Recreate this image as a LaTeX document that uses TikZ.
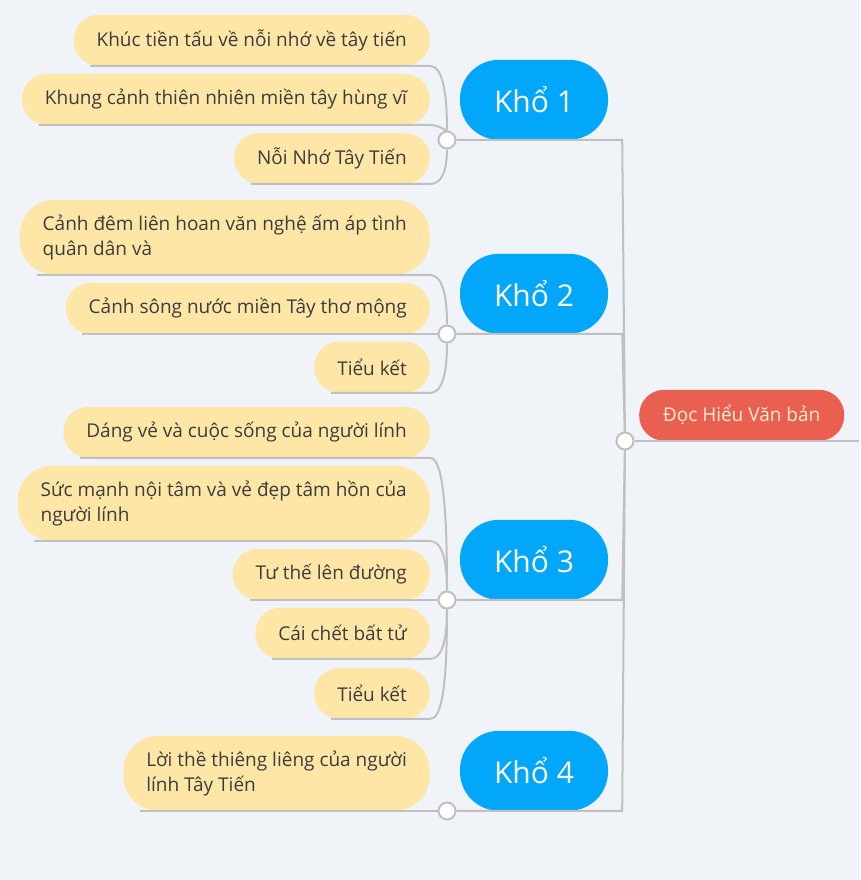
\documentclass[tikz,border=0pt]{standalone}
\usepackage{fontspec}
\setmainfont{Open Sans}
\usepackage{xcolor}
\usetikzlibrary{shapes,positioning,calc}
\definecolor{bgcol}{RGB}{240,244,249}
\definecolor{leafcol}{RGB}{254,230,167}
\definecolor{leaftxt}{RGB}{60,60,60}
\definecolor{khocol}{RGB}{2,167,250}
\definecolor{rootcol}{RGB}{234,96,80}
\definecolor{roottxt}{RGB}{253,236,214}
\definecolor{linecol}{RGB}{192,192,192}

\begin{document}
\begin{tikzpicture}[x=1pt,y=1pt,
  leaf/.style={anchor=south east,fill=leafcol,text=leaftxt,rounded corners=25pt,
    minimum height=51pt,inner xsep=23pt,align=left,
    font=\fontsize{19pt}{25pt}\selectfont},
  twoline/.style={minimum height=75pt,rounded corners=35pt},
  kho/.style={anchor=south,fill=khocol,text=white,rounded corners=39pt,
    minimum width=148pt,minimum height=80pt,font=\fontsize{30pt}{32pt}\selectfont},
  dot/.style={circle,draw=linecol,fill=white,line width=2pt,minimum size=17pt,inner sep=0pt},
  link/.style={draw=linecol,line width=2pt}]
\fill[bgcol] (0,0) rectangle (860,880);
\useasboundingbox (0,0) rectangle (860,880);

% root
\node[dot] (c0) at (625,439) {};
\node[anchor=south west,fill=rootcol,text=roottxt,rounded corners=25pt,minimum width=205pt,
  minimum height=51pt,font=\fontsize{19pt}{22pt}\selectfont] (root) at (639,439) {Đọc Hiểu Văn bản};

% kho nodes
\node[kho] (k1) at (534,740) {Khổ 1};
\node[kho] (k2) at (534,546) {Khổ 2};
\node[kho] (k3) at (534,280) {Khổ 3};
\node[kho] (k4) at (534,69) {Khổ 4};
\node[dot] (c1) at (447,740) {};
\node[dot] (c2) at (447,546) {};
\node[dot] (c3) at (447,280) {};
\node[dot] (c4) at (447,69) {};

% leaves
\node[leaf] (k1a) at (430,814) {Khúc tiền tấu về nỗi nhớ về tây tiến};
\node[leaf] (k1b) at (430,755) {Khung cảnh thiên nhiên miền tây hùng vĩ};
\node[leaf] (k1c) at (430,696) {Nỗi Nhớ Tây Tiến};
\node[leaf,twoline] (k2a) at (430,605) {Cảnh đêm liên hoan văn nghệ ấm áp tình\\quân dân và};
\node[leaf] (k2b) at (430,546) {Cảnh sông nước miền Tây thơ mộng};
\node[leaf] (k2c) at (430,487) {Tiểu kết};
\node[leaf] (k3a) at (430,422) {Dáng vẻ và cuộc sống của người lính};
\node[leaf,twoline] (k3b) at (430,339) {Sức mạnh nội tâm và vẻ đẹp tâm hồn của\\người lính};
\node[leaf] (k3c) at (430,280) {Tư thế lên đường};
\node[leaf] (k3d) at (430,221) {Cái chết bất tử};
\node[leaf] (k3e) at (430,161) {Tiểu kết};
\node[leaf,twoline] (k4a) at (430,69) {Lời thề thiêng liêng của người\\lính Tây Tiến};

% trunk
\draw[link] (c0) -- ([xshift=15pt]root.south east);
\draw[link] (c1) -- ([xshift=14pt]k1.south east) -- (c0);
\draw[link] (c2) -- ([xshift=14pt]k2.south east) -- (c0);
\draw[link] (c3) -- ([xshift=14pt]k3.south east) -- (c0);
\draw[link] (c4) -- ([xshift=14pt]k4.south east) -- (c0);

% branches
\draw[link] ([xshift=17pt]k1a.south west) -- (k1a.south east) .. controls +(12,0) and +(0,50) .. (c1);
\draw[link] ([xshift=17pt]k1b.south west) -- (k1b.south east) .. controls +(10,0) and +(0,8) .. (c1);
\draw[link] ([xshift=17pt]k1c.south west) -- (k1c.south east) .. controls +(12,0) and +(0,-30) .. (c1);
\draw[link] ([xshift=17pt]k2a.south west) -- (k2a.south east) .. controls +(12,0) and +(0,40) .. (c2);
\draw[link] ([xshift=17pt]k2b.south west) -- (c2);
\draw[link] ([xshift=17pt]k2c.south west) -- (k2c.south east) .. controls +(12,0) and +(0,-40) .. (c2);
\draw[link] ([xshift=17pt]k3a.south west) -- (k3a.south east) .. controls +(12,0) and +(0,100) .. (c3);
\draw[link] ([xshift=17pt]k3b.south west) -- (k3b.south east) .. controls +(12,0) and +(0,40) .. (c3);
\draw[link] ([xshift=17pt]k3c.south west) -- (c3);
\draw[link] ([xshift=17pt]k3d.south west) -- (k3d.south east) .. controls +(12,0) and +(0,-40) .. (c3);
\draw[link] ([xshift=17pt]k3e.south west) -- (k3e.south east) .. controls +(12,0) and +(0,-85) .. (c3);
\draw[link] ([xshift=17pt]k4a.south west) -- (c4);
\end{tikzpicture}
\end{document}
